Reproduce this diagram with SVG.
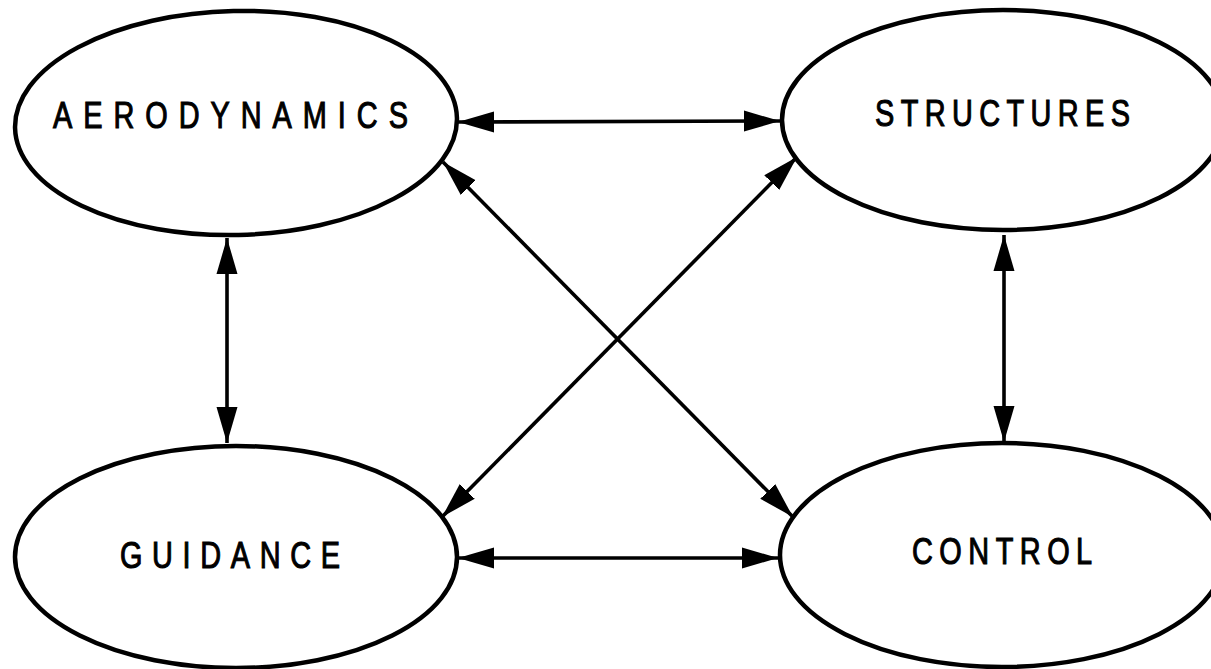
<svg xmlns="http://www.w3.org/2000/svg" width="1211" height="669" viewBox="0 0 1211 669">
<style>
.node ellipse{fill:#fff;stroke:#000;stroke-width:4.5}
.node text{font-family:"Liberation Sans",Arial,sans-serif;font-size:37px;fill:#000;stroke:#000;stroke-width:1.1}
.conn line{stroke:#000;stroke-width:3.6;marker-start:url(#ah);marker-end:url(#ah)}
</style>
<defs>
<marker id="ah" markerUnits="userSpaceOnUse" markerWidth="38" markerHeight="22" refX="36" refY="10.5" orient="auto-start-reverse" viewBox="0 0 38 21">
<path d="M0,0 L36,10.5 L0,21 z" fill="#000"/>
</marker>
</defs>
<rect width="1211" height="669" fill="#fff"/>
<g class="conn" id="connectors">
<line x1="458" y1="122" x2="780" y2="121"/>
<line x1="458" y1="558" x2="778" y2="558"/>
<line x1="227" y1="238" x2="227" y2="443"/>
<line x1="1004" y1="235" x2="1004" y2="442"/>
<line x1="443" y1="162" x2="793" y2="517"/>
<line x1="797" y1="157" x2="442" y2="517"/>
</g>
<g class="node" id="aerodynamics">
<ellipse cx="236" cy="123" rx="221" ry="112" transform="rotate(-1.3 236 123)"/>
<text transform="translate(53 128) scale(0.78 1)" textLength="455" lengthAdjust="spacing">AERODYNAMICS</text>
</g>
<g class="node" id="structures">
<ellipse cx="1003" cy="120" rx="221" ry="110"/>
<text transform="translate(875 126) scale(0.78 1)" textLength="327" lengthAdjust="spacing">STRUCTURES</text>
</g>
<g class="node" id="guidance">
<ellipse cx="236" cy="557" rx="221" ry="111"/>
<text transform="translate(120 568) scale(0.78 1)" textLength="282" lengthAdjust="spacing">GUIDANCE</text>
</g>
<g class="node" id="control">
<ellipse cx="1002" cy="555" rx="222" ry="112"/>
<text transform="translate(912 564) scale(0.78 1)" textLength="231" lengthAdjust="spacing">CONTROL</text>
</g>
</svg>
